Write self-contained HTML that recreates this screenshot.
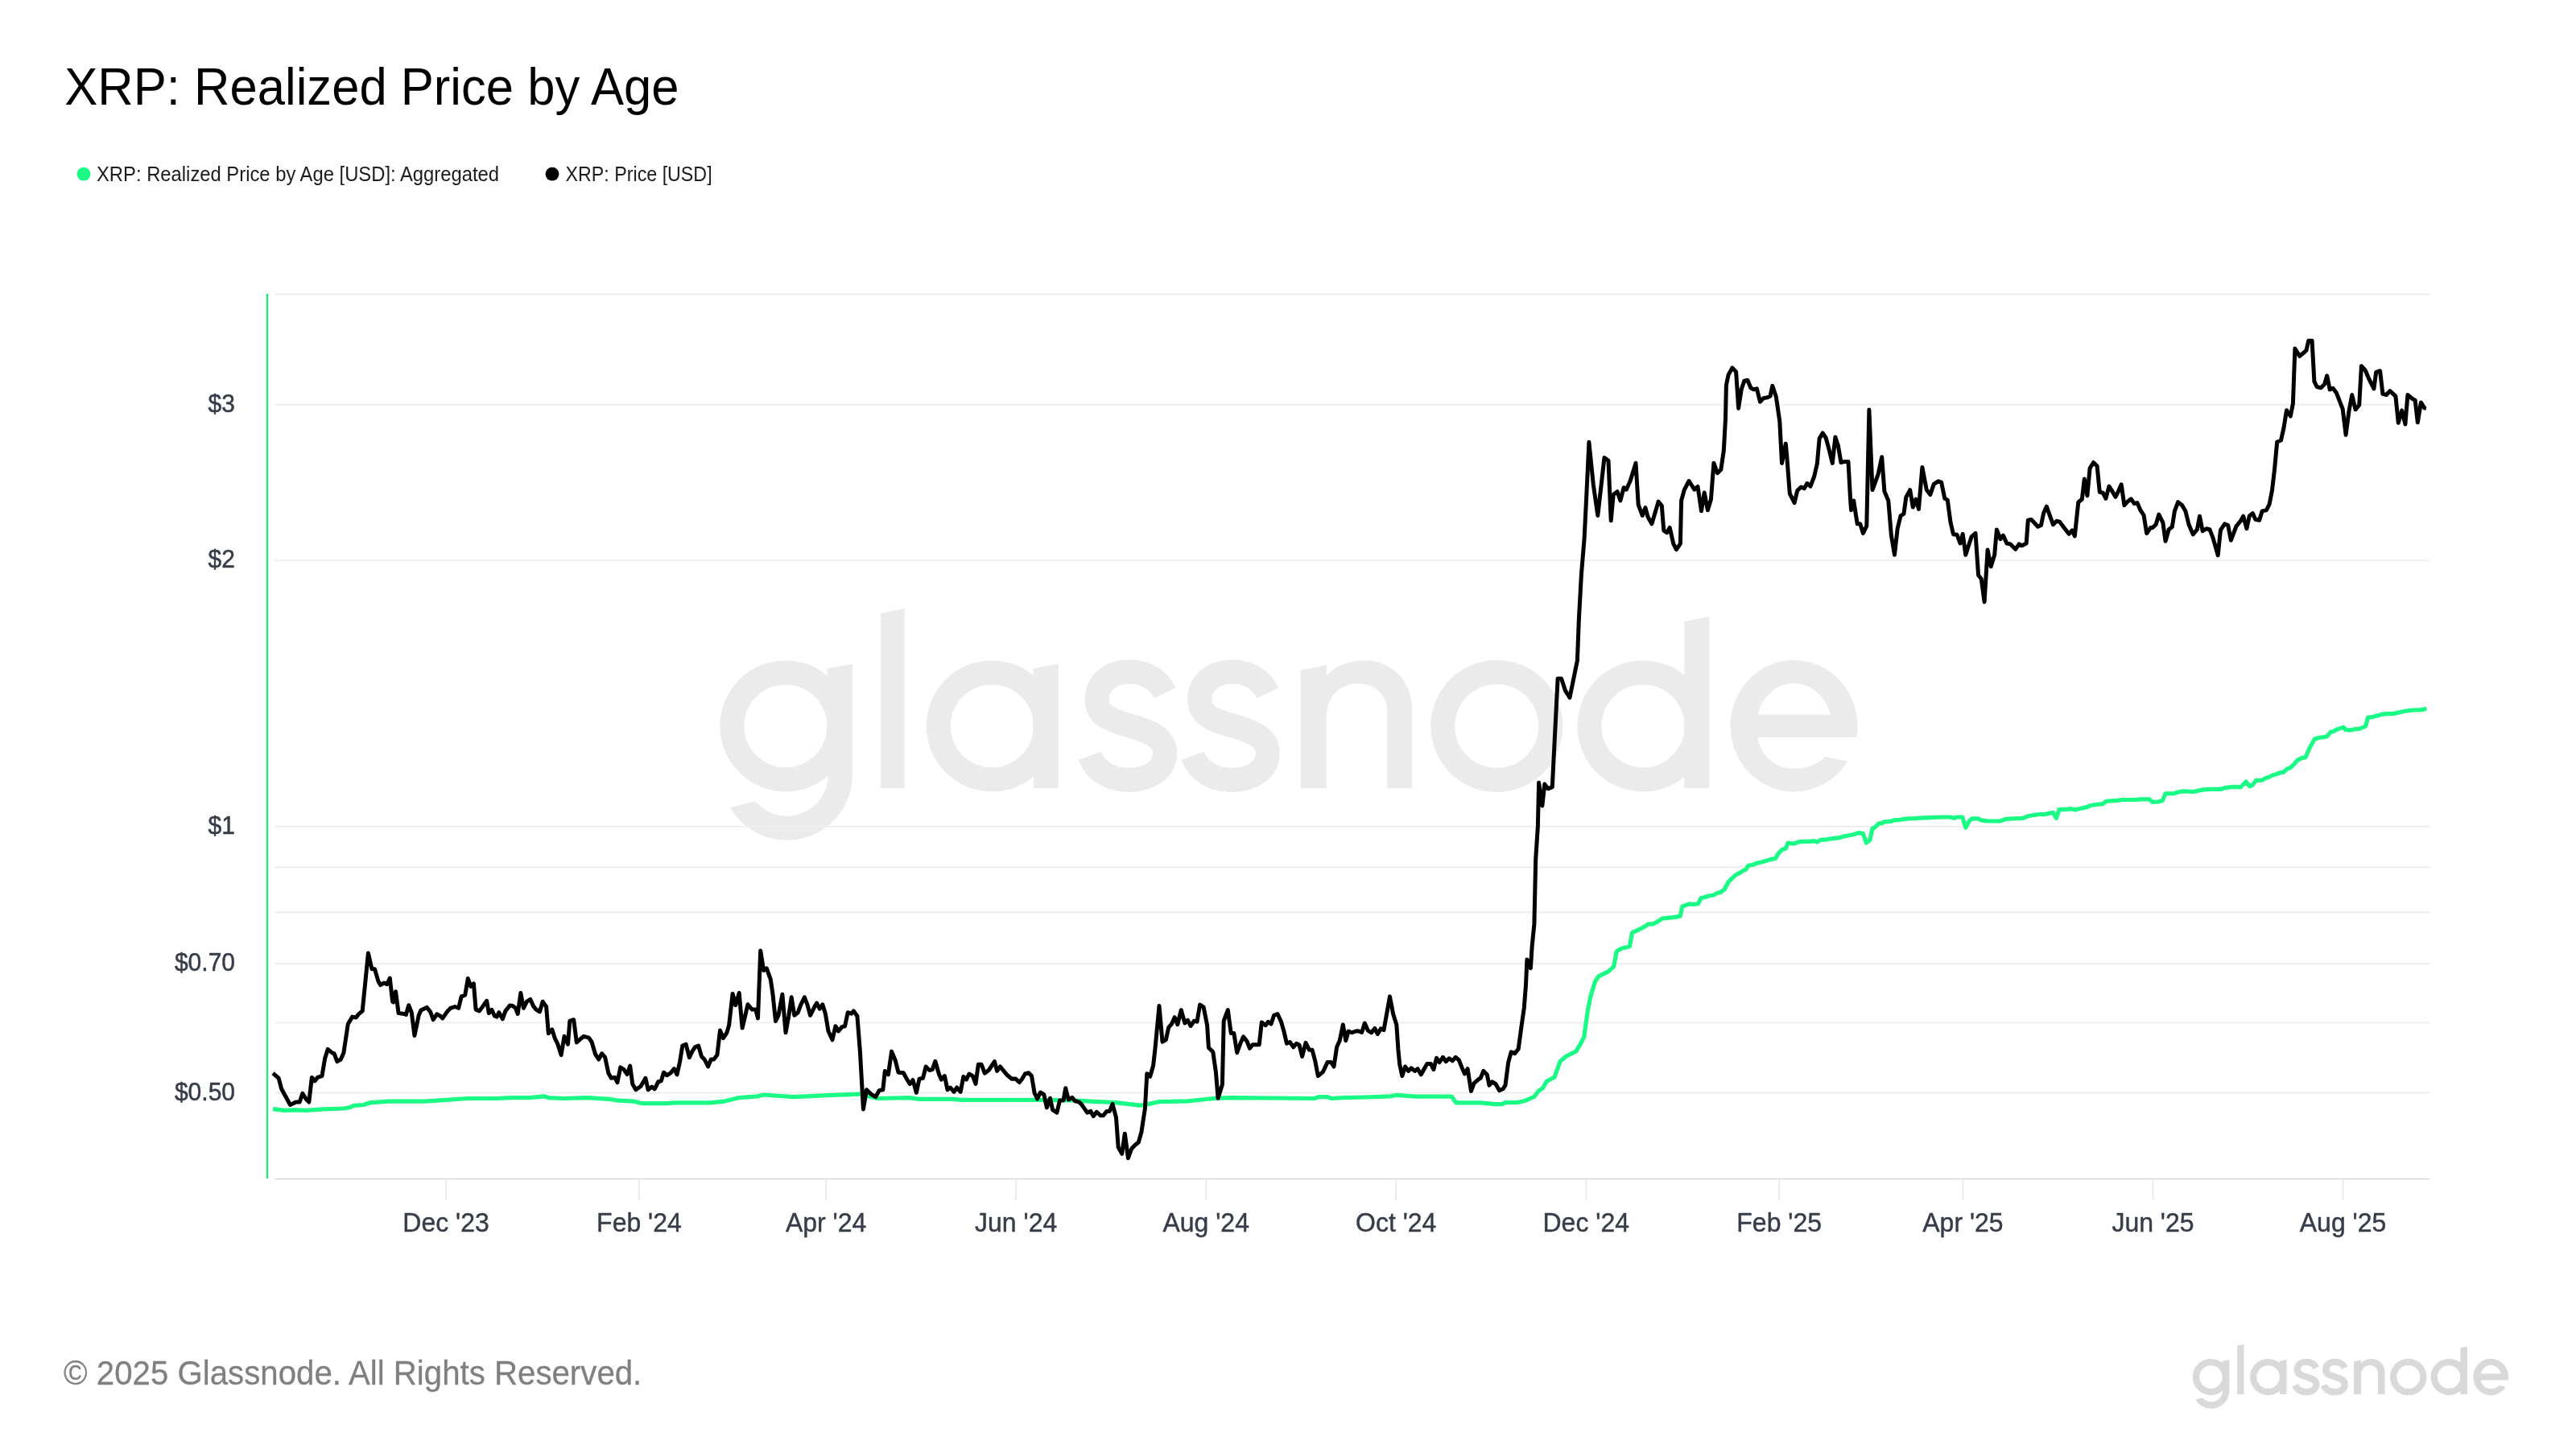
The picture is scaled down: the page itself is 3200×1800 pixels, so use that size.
<!DOCTYPE html>
<html><head><meta charset="utf-8"><title>XRP: Realized Price by Age</title>
<style>html,body{margin:0;padding:0;background:#fff;width:3200px;height:1800px;overflow:hidden}text{font-family:"Liberation Sans",sans-serif}.t{opacity:0.999}</style>
</head><body>
<svg width="3200" height="1800" viewBox="0 0 3200 1800" style="display:block;will-change:transform">
<defs><g id="logo"><circle cx="975.9" cy="901.9" r="66.5" fill="none" stroke="currentColor" stroke-width="30"/>
<path d="M1027.5 830.5 L1058.9 825 L1058.9 964.5 L1027.5 964.5 Z" fill="currentColor"/>
<path d="M1058.9 962.2 A81.5 81.5 0 0 1 906.8 1003.0 L938.2 995.6 A51.5 51.5 0 0 0 1028.9 962.2 Z" fill="currentColor"/>
<path d="M1093.8 762.1 L1123.6 755.9 L1123.6 979.2 L1093.8 979.2 Z" fill="currentColor"/>
<circle cx="1232.3" cy="901.9" r="66.5" fill="none" stroke="currentColor" stroke-width="30"/>
<path d="M1283.7 830.5 L1314.6 824.6 L1314.6 979.2 L1283.7 979.2 Z" fill="currentColor"/>
<path d="M1447.1 860.9 C1438.5 843.2 1422.5 834.6 1402.3 834.6 C1378.5 834.6 1362.6 849.2 1362.6 869.0 C1362.6 891.2 1385.5 896.2 1402.3 901.2 C1420.5 906.7 1447.1 913.2 1447.1 935.0 C1447.1 957.2 1426.5 968.9 1402.3 968.9 C1378.5 968.9 1360.5 957.2 1353.8 938.8" fill="none" stroke="currentColor" stroke-width="30"/>
<path d="M1574.8 860.9 C1566.2 843.2 1550.2 834.6 1530.0 834.6 C1506.2 834.6 1490.3 849.2 1490.3 869.0 C1490.3 891.2 1513.2 896.2 1530.0 901.2 C1548.2 906.7 1574.8 913.2 1574.8 935.0 C1574.8 957.2 1554.2 968.9 1530.0 968.9 C1506.2 968.9 1488.2 957.2 1481.5 938.8" fill="none" stroke="currentColor" stroke-width="30"/>
<path d="M1615.7 832.8 L1647.8 826.1 L1647.8 839.5 C1659 827 1676 820.5 1695 820.5 C1729 820.5 1754.2 846 1754.2 881 L1754.2 979.2 L1723.3 979.2 L1723.3 884 C1723.3 863 1708 849.3 1686.5 849.3 C1663 849.3 1647.8 867 1647.8 891 L1647.8 979.2 L1615.7 979.2 Z" fill="currentColor"/>
<circle cx="1859.3" cy="901.9" r="67" fill="none" stroke="currentColor" stroke-width="30"/>
<circle cx="2041" cy="901.9" r="66.5" fill="none" stroke="currentColor" stroke-width="30"/>
<path d="M2092.3 772 L2123.2 766.1 L2123.2 979.2 L2092.3 979.2 Z" fill="currentColor"/>
<path fill-rule="evenodd" d="M2306.3 916 A79 81.8 0 1 0 2295.2 945.6 L2267 940 C2257 950.5 2243.5 954.8 2228.5 954.8 C2205 954.8 2187.5 939 2183.2 916 Z M2183.2 887.7 A47 53 0 0 1 2273.8 887.7 Z" fill="currentColor"/></g></defs>
<rect width="3200" height="1800" fill="#ffffff"/>
<text class="t" transform="translate(80.2,130.2) scale(0.946,1)" x="0" y="0" font-family="Liberation Sans" font-size="65.1" fill="#000">XRP: Realized Price by Age</text>
<circle cx="104" cy="216.2" r="8.4" fill="#19fb84"/>
<text class="t" x="120" y="224.9" font-family="Liberation Sans" font-size="26.2" fill="#1c1c1c" textLength="500" lengthAdjust="spacingAndGlyphs">XRP: Realized Price by Age [USD]: Aggregated</text>
<circle cx="686" cy="216.2" r="8.4" fill="#000"/>
<text class="t" x="702.6" y="224.9" font-family="Liberation Sans" font-size="26.2" fill="#1c1c1c" textLength="182" lengthAdjust="spacingAndGlyphs">XRP: Price [USD]</text>
<use href="#logo" color="#ebebeb"/>
<line x1="341" y1="365.50" x2="3018.5" y2="365.50" stroke="#efefef" stroke-width="2"/>
<line x1="341" y1="502.75" x2="3018.5" y2="502.75" stroke="#efefef" stroke-width="2"/>
<line x1="341" y1="696.18" x2="3018.5" y2="696.18" stroke="#efefef" stroke-width="2"/>
<line x1="341" y1="1026.86" x2="3018.5" y2="1026.86" stroke="#efefef" stroke-width="2"/>
<line x1="341" y1="1077.13" x2="3018.5" y2="1077.13" stroke="#efefef" stroke-width="2"/>
<line x1="341" y1="1133.32" x2="3018.5" y2="1133.32" stroke="#efefef" stroke-width="2"/>
<line x1="341" y1="1197.02" x2="3018.5" y2="1197.02" stroke="#efefef" stroke-width="2"/>
<line x1="341" y1="1270.56" x2="3018.5" y2="1270.56" stroke="#efefef" stroke-width="2"/>
<line x1="341" y1="1357.54" x2="3018.5" y2="1357.54" stroke="#efefef" stroke-width="2"/>
<line x1="341" y1="1464.4" x2="3018.5" y2="1464.4" stroke="#d9d9d9" stroke-width="1.5"/>
<line x1="554.05" y1="1465" x2="554.05" y2="1491" stroke="#ebebeb" stroke-width="2"/>
<text class="t" transform="translate(554.05,1530) scale(0.961,1)" x="0" y="0" text-anchor="middle" font-family="Liberation Sans" font-size="33.3" fill="#363c48" stroke="#363c48" stroke-width="0.45">Dec '23</text>
<line x1="793.95" y1="1465" x2="793.95" y2="1491" stroke="#ebebeb" stroke-width="2"/>
<text class="t" transform="translate(793.95,1530) scale(0.961,1)" x="0" y="0" text-anchor="middle" font-family="Liberation Sans" font-size="33.3" fill="#363c48" stroke="#363c48" stroke-width="0.45">Feb '24</text>
<line x1="1026.12" y1="1465" x2="1026.12" y2="1491" stroke="#ebebeb" stroke-width="2"/>
<text class="t" transform="translate(1026.12,1530) scale(0.961,1)" x="0" y="0" text-anchor="middle" font-family="Liberation Sans" font-size="33.3" fill="#363c48" stroke="#363c48" stroke-width="0.45">Apr '24</text>
<line x1="1262.15" y1="1465" x2="1262.15" y2="1491" stroke="#ebebeb" stroke-width="2"/>
<text class="t" transform="translate(1262.15,1530) scale(0.961,1)" x="0" y="0" text-anchor="middle" font-family="Liberation Sans" font-size="33.3" fill="#363c48" stroke="#363c48" stroke-width="0.45">Jun '24</text>
<line x1="1498.18" y1="1465" x2="1498.18" y2="1491" stroke="#ebebeb" stroke-width="2"/>
<text class="t" transform="translate(1498.18,1530) scale(0.961,1)" x="0" y="0" text-anchor="middle" font-family="Liberation Sans" font-size="33.3" fill="#363c48" stroke="#363c48" stroke-width="0.45">Aug '24</text>
<line x1="1734.22" y1="1465" x2="1734.22" y2="1491" stroke="#ebebeb" stroke-width="2"/>
<text class="t" transform="translate(1734.22,1530) scale(0.961,1)" x="0" y="0" text-anchor="middle" font-family="Liberation Sans" font-size="33.3" fill="#363c48" stroke="#363c48" stroke-width="0.45">Oct '24</text>
<line x1="1970.25" y1="1465" x2="1970.25" y2="1491" stroke="#ebebeb" stroke-width="2"/>
<text class="t" transform="translate(1970.25,1530) scale(0.961,1)" x="0" y="0" text-anchor="middle" font-family="Liberation Sans" font-size="33.3" fill="#363c48" stroke="#363c48" stroke-width="0.45">Dec '24</text>
<line x1="2210.15" y1="1465" x2="2210.15" y2="1491" stroke="#ebebeb" stroke-width="2"/>
<text class="t" transform="translate(2210.15,1530) scale(0.961,1)" x="0" y="0" text-anchor="middle" font-family="Liberation Sans" font-size="33.3" fill="#363c48" stroke="#363c48" stroke-width="0.45">Feb '25</text>
<line x1="2438.45" y1="1465" x2="2438.45" y2="1491" stroke="#ebebeb" stroke-width="2"/>
<text class="t" transform="translate(2438.45,1530) scale(0.961,1)" x="0" y="0" text-anchor="middle" font-family="Liberation Sans" font-size="33.3" fill="#363c48" stroke="#363c48" stroke-width="0.45">Apr '25</text>
<line x1="2674.48" y1="1465" x2="2674.48" y2="1491" stroke="#ebebeb" stroke-width="2"/>
<text class="t" transform="translate(2674.48,1530) scale(0.961,1)" x="0" y="0" text-anchor="middle" font-family="Liberation Sans" font-size="33.3" fill="#363c48" stroke="#363c48" stroke-width="0.45">Jun '25</text>
<line x1="2910.51" y1="1465" x2="2910.51" y2="1491" stroke="#ebebeb" stroke-width="2"/>
<text class="t" transform="translate(2910.51,1530) scale(0.961,1)" x="0" y="0" text-anchor="middle" font-family="Liberation Sans" font-size="33.3" fill="#363c48" stroke="#363c48" stroke-width="0.45">Aug '25</text>
<line x1="332" y1="365" x2="332" y2="1464" stroke="#0cf96c" stroke-width="2.2"/>
<text class="t" transform="translate(292,511.85) scale(0.935,1)" x="0" y="0" text-anchor="end" font-family="Liberation Sans" font-size="32.1" fill="#363c48" stroke="#363c48" stroke-width="0.55">$3</text>
<text class="t" transform="translate(292,705.28) scale(0.935,1)" x="0" y="0" text-anchor="end" font-family="Liberation Sans" font-size="32.1" fill="#363c48" stroke="#363c48" stroke-width="0.55">$2</text>
<text class="t" transform="translate(292,1035.96) scale(0.935,1)" x="0" y="0" text-anchor="end" font-family="Liberation Sans" font-size="32.1" fill="#363c48" stroke="#363c48" stroke-width="0.55">$1</text>
<text class="t" transform="translate(292,1206.12) scale(0.935,1)" x="0" y="0" text-anchor="end" font-family="Liberation Sans" font-size="32.1" fill="#363c48" stroke="#363c48" stroke-width="0.55">$0.70</text>
<text class="t" transform="translate(292,1366.64) scale(0.935,1)" x="0" y="0" text-anchor="end" font-family="Liberation Sans" font-size="32.1" fill="#363c48" stroke="#363c48" stroke-width="0.55">$0.50</text>
<polyline points="339.0,1377.6 353.3,1379.4 365.9,1378.8 380.3,1379.4 401.8,1377.9 426.9,1377.0 434.1,1375.8 439.5,1373.4 452.0,1372.5 459.2,1369.8 482.5,1368.1 527.4,1368.1 554.3,1366.3 581.3,1364.5 617.2,1364.5 635.1,1363.6 657.9,1363.6 675.9,1361.8 681.3,1363.6 701.0,1364.5 729.7,1363.6 756.7,1365.4 769.2,1367.2 787.2,1368.1 797.9,1370.7 828.4,1370.7 837.4,1369.8 882.3,1369.8 900.2,1368.1 918.2,1363.6 941.5,1361.8 948.7,1360.0 985.9,1362.7 1021.8,1360.9 1068.4,1359.1 1075.6,1360.9 1090.0,1364.5 1129.5,1363.6 1142.0,1365.4 1183.3,1365.4 1194.1,1366.3 1295.9,1366.5 1331.8,1366.9 1349.7,1367.8 1385.6,1369.6 1416.1,1373.2 1425.1,1371.9 1439.5,1368.7 1475.4,1367.8 1493.3,1366.0 1511.3,1364.2 1529.2,1363.7 1632.8,1364.5 1638.2,1362.7 1649.0,1362.7 1654.4,1364.5 1668.7,1363.6 1695.6,1363.0 1727.9,1361.8 1735.1,1360.3 1758.4,1362.1 1803.3,1362.1 1808.7,1369.8 1839.2,1369.8 1857.2,1371.6 1866.1,1371.6 1870.0,1369.6 1884.4,1369.6 1893.3,1367.8 1905.9,1362.4 1911.3,1355.2 1916.7,1351.6 1921.1,1343.6 1925.6,1340.9 1931.0,1338.2 1938.2,1318.4 1945.4,1312.2 1957.9,1305.9 1963.3,1296.9 1967.8,1287.9 1972.3,1255.6 1975.9,1237.7 1981.3,1219.7 1985.8,1212.9 1997.4,1207.2 2004.6,1200.9 2008.2,1182.0 2013.6,1178.5 2024.3,1175.8 2027.6,1158.7 2035.1,1155.1 2042.3,1151.5 2047.7,1147.9 2053.1,1147.9 2058.4,1145.3 2065.6,1140.8 2076.4,1139.9 2087.2,1138.1 2089.9,1126.0 2098.6,1122.9 2104.8,1123.5 2109.8,1122.3 2112.9,1115.5 2117.3,1114.8 2122.2,1113.0 2128.4,1112.0 2133.4,1109.3 2137.1,1108.6 2142.1,1104.9 2147.1,1095.6 2152.0,1090.6 2157.0,1086.3 2162.0,1083.8 2165.7,1081.3 2168.8,1080.1 2171.9,1075.1 2176.9,1074.5 2183.1,1072.0 2189.3,1070.7 2194.3,1069.3 2199.3,1067.6 2205.5,1066.4 2209.2,1060.2 2214.2,1055.2 2218.5,1054.0 2221.0,1047.1 2225.3,1047.8 2229.1,1047.8 2234.0,1045.9 2241.5,1045.3 2247.7,1045.3 2253.9,1044.7 2257.0,1046.1 2261.4,1043.4 2268.8,1042.8 2276.3,1041.6 2283.7,1040.9 2291.2,1038.8 2301.1,1037.0 2308.6,1034.7 2314.2,1035.3 2318.5,1047.1 2322.9,1043.4 2326.0,1029.1 2329.7,1027.3 2334.0,1022.9 2337.1,1022.9 2340.9,1020.8 2348.3,1020.4 2353.3,1018.8 2360.7,1018.3 2368.2,1017.1 2378.1,1016.7 2381.9,1016.3 2390.6,1015.8 2414.8,1015.0 2422.3,1015.0 2427.3,1016.3 2431.0,1015.0 2437.8,1015.0 2441.9,1028.1 2446.5,1019.4 2449.6,1016.9 2457.1,1016.9 2460.8,1018.8 2469.5,1020.0 2484.4,1020.0 2491.9,1017.5 2501.8,1016.9 2513.0,1016.3 2519.2,1013.8 2531.6,1011.7 2539.1,1011.7 2550.2,1009.4 2554.6,1016.3 2557.7,1005.7 2565.2,1005.7 2572.6,1004.7 2577.6,1006.0 2585.0,1004.2 2592.5,1002.6 2596.2,1000.7 2603.7,999.5 2612.4,998.6 2616.1,995.5 2622.3,994.8 2631.0,994.3 2636.0,993.5 2650.9,993.5 2659.6,992.8 2670.1,992.8 2673.9,996.4 2680.7,996.0 2686.3,994.5 2690.0,985.8 2700.6,985.8 2705.5,984.0 2712.4,982.9 2724.8,983.5 2736.0,981.1 2744.7,980.4 2758.4,980.4 2764.6,978.6 2774.5,977.3 2783.2,978.0 2790.1,971.1 2794.4,976.7 2798.1,975.5 2802.5,969.3 2809.3,969.5 2814.3,966.8 2818.0,965.5 2823.0,963.0 2828.0,961.8 2831.7,959.9 2836.6,959.3 2841.6,955.0 2845.3,953.7 2849.1,950.0 2854.7,943.8 2859.0,941.9 2864.0,940.7 2868.9,929.5 2875.2,918.3 2880.1,916.5 2890.1,915.2 2895.0,909.6 2898.8,908.4 2903.7,905.9 2911.2,903.4 2913.7,906.5 2918.6,907.1 2926.1,905.7 2931.1,905.3 2938.5,902.2 2941.6,891.0 2946.0,891.0 2959.6,887.3 2965.8,886.6 2973.3,886.6 2985.7,883.8 2998.1,882.0 3006.8,882.0 3014.3,880.4" fill="none" stroke="#19fb84" stroke-width="5.2" stroke-linejoin="round" stroke-linecap="butt"/>
<polyline points="339.0,1333.1 346.2,1339.3 349.7,1352.8 360.5,1372.5 367.7,1369.0 372.2,1369.0 375.8,1358.2 380.3,1365.4 383.8,1369.0 387.4,1338.4 391.0,1342.9 394.6,1338.4 400.0,1336.6 403.6,1315.1 407.2,1303.4 412.6,1307.9 415.2,1308.8 418.8,1318.7 423.3,1316.0 426.9,1307.9 432.3,1272.0 437.7,1263.1 442.2,1264.0 444.9,1260.4 450.2,1255.9 457.4,1184.1 461.9,1203.8 465.5,1203.8 470.0,1219.1 472.7,1223.6 477.2,1220.9 480.8,1222.7 484.3,1215.0 487.6,1244.2 488.8,1245.1 491.5,1231.7 495.1,1258.6 502.3,1259.5 504.4,1260.4 507.7,1248.7 511.3,1257.7 514.9,1286.4 520.2,1261.3 522.9,1255.0 530.1,1251.4 534.6,1256.8 538.2,1266.7 542.7,1259.8 547.2,1262.2 549.8,1264.9 556.1,1255.9 559.7,1252.3 565.1,1250.5 569.6,1252.3 573.2,1237.9 577.7,1236.1 581.3,1215.5 584.8,1225.4 588.4,1221.8 591.1,1254.1 595.6,1255.9 600.1,1249.6 604.6,1243.3 607.3,1258.6 610.9,1254.5 614.5,1262.2 617.2,1263.1 619.8,1257.7 624.3,1265.8 627.9,1255.9 633.3,1249.1 636.9,1249.6 640.5,1252.3 643.2,1259.5 646.8,1233.5 650.4,1252.3 654.4,1244.2 658.8,1241.5 662.4,1249.6 666.0,1254.1 670.5,1256.8 674.1,1244.2 678.6,1250.5 681.3,1283.7 685.8,1278.9 689.4,1290.0 692.9,1297.2 697.1,1310.6 701.0,1287.3 705.5,1297.2 707.8,1268.4 712.7,1266.7 716.3,1295.0 720.8,1290.9 725.2,1287.3 731.5,1289.1 735.1,1294.5 739.6,1309.7 743.7,1316.0 747.7,1308.8 751.6,1313.3 755.8,1333.1 759.3,1339.3 763.8,1338.4 766.9,1344.7 770.7,1325.9 775.0,1328.6 779.1,1334.5 782.7,1324.1 785.7,1346.5 789.9,1353.7 796.1,1349.2 801.9,1339.3 805.1,1353.7 809.6,1350.1 813.2,1352.8 817.7,1343.8 821.3,1342.9 824.5,1332.2 828.4,1335.8 832.9,1333.1 837.4,1327.7 841.0,1334.9 844.6,1318.7 847.8,1299.0 852.1,1297.2 856.3,1313.7 859.8,1306.1 863.4,1300.8 867.6,1299.0 871.5,1312.4 875.1,1316.0 879.6,1325.0 883.2,1316.0 886.8,1316.0 890.9,1310.6 894.5,1280.1 898.4,1289.6 902.9,1282.8 905.6,1273.8 910.1,1234.4 913.7,1248.7 918.2,1233.5 922.1,1277.1 925.4,1263.1 928.9,1247.8 934.3,1254.1 938.8,1254.1 941.5,1264.9 944.7,1180.9 948.7,1205.6 952.3,1202.9 957.2,1216.4 959.9,1234.4 963.5,1268.4 967.0,1261.3 971.9,1235.2 976.0,1282.8 979.6,1263.1 983.2,1238.8 986.8,1261.3 991.3,1257.7 994.9,1247.8 999.4,1238.8 1002.9,1247.8 1006.5,1261.3 1011.0,1252.3 1014.6,1246.0 1018.2,1253.2 1021.8,1247.8 1025.4,1259.5 1029.0,1281.0 1034.0,1291.8 1037.9,1274.7 1041.5,1281.0 1046.0,1275.6 1049.6,1274.7 1053.2,1257.7 1057.7,1259.1 1060.4,1255.9 1064.9,1262.2 1068.4,1306.1 1072.4,1377.9 1076.5,1353.7 1081.9,1359.1 1087.8,1362.7 1092.1,1354.6 1096.8,1353.7 1099.3,1330.4 1103.4,1334.9 1107.6,1306.1 1112.4,1317.8 1116.0,1332.2 1122.3,1332.7 1126.8,1341.1 1130.4,1346.5 1134.0,1341.7 1138.4,1357.3 1142.0,1340.2 1146.5,1339.3 1150.1,1325.0 1154.6,1329.5 1158.2,1328.6 1161.8,1318.3 1166.3,1334.0 1169.3,1341.1 1173.4,1336.6 1177.0,1353.7 1180.6,1351.0 1185.1,1356.4 1188.7,1351.0 1193.2,1356.4 1196.8,1337.5 1200.4,1341.1 1203.9,1334.0 1208.4,1336.6 1212.0,1346.5 1215.3,1322.3 1219.2,1322.3 1223.2,1333.1 1228.2,1329.5 1231.8,1324.1 1235.4,1318.7 1238.6,1330.4 1242.5,1325.0 1246.1,1329.5 1251.5,1335.8 1256.9,1340.2 1261.4,1339.9 1266.3,1344.5 1269.9,1340.0 1273.5,1333.7 1277.9,1332.8 1281.5,1336.4 1285.1,1357.9 1288.7,1365.1 1292.3,1357.0 1296.8,1359.7 1300.4,1375.9 1304.5,1364.2 1307.6,1378.6 1312.9,1382.2 1316.5,1366.9 1321.0,1366.9 1323.7,1351.7 1327.3,1366.0 1331.8,1363.3 1335.4,1367.8 1339.9,1368.7 1343.5,1371.9 1350.6,1382.2 1354.8,1380.4 1358.3,1386.6 1362.3,1381.3 1367.3,1385.8 1370.4,1385.8 1374.9,1380.4 1378.4,1380.4 1382.0,1371.4 1386.5,1388.4 1389.2,1425.2 1393.7,1433.3 1397.3,1408.2 1401.4,1438.7 1405.7,1427.0 1409.9,1422.5 1414.3,1419.0 1417.9,1406.4 1422.4,1376.8 1424.8,1333.7 1428.7,1337.3 1432.6,1323.8 1435.0,1302.3 1440.0,1249.4 1444.0,1294.2 1448.4,1291.5 1451.7,1276.3 1455.6,1271.8 1459.2,1263.7 1462.8,1272.7 1467.3,1254.7 1471.8,1270.9 1475.4,1267.3 1479.0,1274.5 1483.4,1268.2 1487.0,1269.1 1490.6,1248.1 1495.1,1251.1 1499.6,1273.6 1501.4,1301.4 1506.8,1306.8 1510.4,1331.9 1513.1,1364.2 1518.4,1347.2 1520.2,1268.2 1525.3,1254.7 1529.2,1283.5 1532.8,1283.5 1536.7,1307.7 1540.9,1296.0 1544.5,1287.9 1548.9,1293.3 1552.5,1302.3 1556.1,1297.8 1564.2,1297.8 1567.3,1270.0 1572.3,1273.6 1575.4,1269.3 1579.0,1272.0 1582.6,1261.3 1587.0,1259.5 1591.5,1269.3 1595.1,1281.9 1598.4,1296.3 1602.3,1294.5 1606.8,1300.8 1610.4,1296.3 1614.0,1298.1 1617.6,1312.4 1622.0,1295.4 1626.5,1304.3 1630.1,1304.3 1633.7,1317.8 1637.3,1336.6 1643.6,1331.3 1649.0,1319.6 1653.5,1319.6 1657.0,1325.0 1660.6,1300.8 1664.2,1292.7 1668.3,1272.9 1671.8,1292.7 1675.0,1281.0 1679.5,1282.8 1684.0,1281.0 1687.6,1280.7 1691.7,1282.4 1695.3,1271.1 1699.2,1280.1 1703.7,1282.8 1707.8,1277.4 1711.4,1284.6 1715.4,1277.8 1719.0,1279.6 1726.5,1237.9 1730.6,1259.5 1734.8,1272.9 1736.9,1303.4 1738.7,1322.3 1741.9,1336.6 1745.5,1325.0 1749.5,1330.4 1753.1,1326.8 1757.5,1330.4 1761.1,1327.7 1765.3,1334.9 1769.2,1327.7 1772.8,1321.4 1777.3,1321.4 1780.9,1328.6 1784.5,1314.2 1788.1,1319.6 1792.5,1313.3 1796.1,1318.7 1800.1,1314.8 1804.2,1317.8 1808.3,1313.3 1812.3,1316.9 1815.9,1325.9 1819.5,1334.0 1823.1,1327.7 1827.5,1355.5 1831.1,1345.6 1837.4,1340.2 1839.2,1339.3 1842.8,1330.4 1847.3,1334.9 1850.0,1348.3 1853.6,1343.8 1858.0,1346.5 1862.5,1354.6 1867.0,1352.8 1870.0,1348.1 1873.6,1320.2 1877.2,1306.8 1881.7,1308.6 1886.2,1303.2 1889.7,1277.2 1893.3,1252.0 1895.5,1223.3 1896.9,1191.9 1901.4,1202.7 1903.2,1174.9 1905.9,1147.9 1907.7,1067.4 1910.4,1026.1 1911.6,972.3 1915.8,1001.0 1918.8,974.1 1922.9,979.8 1928.3,977.7 1931.0,923.8 1935.1,843.0 1939.6,843.0 1944.5,857.9 1950.0,866.6 1959.4,820.6 1961.4,768.4 1964.4,713.8 1968.1,669.1 1970.6,619.4 1973.9,549.3 1979.3,602.0 1984.8,640.5 1993.0,568.4 1998.0,572.2 2001.2,646.7 2004.2,614.4 2009.1,610.7 2012.9,621.9 2017.1,605.7 2020.3,608.2 2025.3,597.0 2032.0,575.2 2035.2,626.8 2040.2,640.5 2043.9,630.6 2046.9,641.7 2051.9,650.9 2060.1,623.1 2064.3,628.1 2066.8,659.1 2070.7,661.6 2074.2,655.4 2078.7,675.3 2082.4,682.7 2087.4,675.3 2088.6,621.9 2092.4,608.2 2098.1,597.5 2104.8,608.2 2109.0,604.5 2113.5,634.8 2117.2,611.9 2121.4,633.8 2125.4,620.6 2128.9,575.2 2133.4,587.6 2137.8,583.4 2141.3,559.8 2143.5,519.7 2144.4,478.5 2147.0,465.9 2151.9,456.9 2156.6,461.9 2159.6,507.2 2163.2,483.8 2166.8,473.1 2170.9,472.2 2174.9,482.0 2178.5,483.8 2182.4,482.9 2186.5,499.1 2190.7,494.6 2195.5,493.7 2199.1,491.9 2201.8,479.4 2206.3,492.8 2210.8,523.3 2213.5,575.4 2218.3,551.1 2219.7,566.4 2223.3,613.1 2229.1,624.7 2232.7,609.5 2237.3,605.0 2241.3,606.8 2244.9,600.5 2249.0,604.1 2253.8,591.5 2257.4,575.4 2260.1,544.9 2264.2,538.0 2268.2,544.0 2272.1,558.3 2276.3,575.4 2279.9,543.1 2283.4,553.8 2287.0,574.5 2290.6,573.6 2296.0,573.6 2298.7,622.0 2299.6,633.7 2302.7,622.0 2307.2,650.8 2310.8,650.8 2314.4,662.4 2318.8,653.4 2321.9,509.0 2326.0,608.6 2333.2,588.8 2337.7,567.8 2340.9,610.4 2345.8,622.0 2349.4,665.1 2353.5,689.3 2357.1,657.0 2361.0,640.9 2365.0,638.2 2367.8,617.6 2372.7,608.6 2376.3,630.1 2379.9,620.2 2383.5,632.4 2387.9,580.4 2393.3,608.6 2397.8,614.5 2402.3,601.4 2407.7,597.8 2411.6,599.1 2415.8,619.3 2419.3,621.1 2422.9,648.1 2426.5,663.7 2431.0,664.2 2435.0,675.0 2438.2,663.3 2441.8,689.3 2449.0,666.9 2454.0,662.4 2457.6,714.5 2461.2,719.0 2465.1,747.7 2469.1,683.1 2473.2,703.7 2477.7,689.3 2480.4,657.9 2484.9,669.6 2488.4,665.1 2492.9,675.0 2497.4,675.9 2503.7,682.2 2508.2,675.9 2511.8,677.7 2517.2,675.0 2519.3,646.3 2523.4,645.4 2531.5,654.3 2535.5,652.5 2538.7,637.3 2542.3,629.2 2550.4,651.7 2554.8,647.2 2558.4,648.1 2563.8,655.2 2570.1,663.3 2574.2,658.8 2577.3,666.0 2581.8,623.8 2586.3,620.2 2589.3,595.1 2592.9,615.8 2596.1,581.7 2600.6,574.5 2605.1,579.0 2608.3,611.3 2612.3,612.2 2615.9,619.3 2620.0,604.1 2623.2,609.1 2627.9,617.3 2632.1,609.1 2635.2,601.8 2638.9,627.7 2642.4,623.6 2647.2,619.8 2651.3,625.6 2654.9,624.6 2659.0,633.9 2663.1,640.1 2666.7,662.5 2671.4,655.6 2674.1,655.6 2678.2,651.5 2681.8,639.1 2686.9,649.4 2690.0,672.2 2694.2,657.7 2698.3,654.6 2701.4,634.9 2705.6,623.6 2710.7,627.7 2714.9,634.9 2719.0,651.5 2724.2,663.9 2729.4,657.7 2732.5,641.2 2736.2,659.8 2740.8,656.7 2744.9,657.7 2749.0,668.1 2755.2,689.8 2758.4,658.7 2763.5,650.9 2767.7,652.5 2771.4,671.2 2778.0,653.6 2783.2,647.4 2786.7,641.2 2790.9,656.7 2794.2,641.2 2798.3,637.6 2801.8,645.3 2806.6,646.3 2810.1,634.9 2815.3,633.9 2819.0,626.7 2822.5,609.1 2825.6,582.2 2828.7,549.0 2833.5,547.0 2837.0,531.4 2840.5,509.7 2845.3,517.0 2848.4,501.4 2850.9,433.1 2856.7,442.4 2862.9,437.3 2865.0,435.2 2867.7,423.2 2872.1,423.2 2874.9,474.0 2878.2,480.6 2883.2,481.7 2887.6,477.3 2890.7,466.8 2894.2,483.9 2898.1,482.3 2902.5,488.3 2910.2,508.2 2914.1,540.2 2918.0,510.4 2921.8,490.5 2926.0,508.8 2930.7,503.2 2933.4,454.7 2938.4,460.2 2942.3,469.6 2948.9,482.8 2951.7,462.4 2956.6,460.7 2959.9,489.4 2964.4,490.5 2968.8,485.6 2975.9,492.2 2979.3,525.3 2983.7,509.9 2987.9,527.0 2990.9,490.5 2996.9,495.5 3000.2,497.2 3003.3,524.8 3007.4,499.9 3010.4,504.9 3011.5,506.9 3013.9,507.3" fill="none" stroke="#000" stroke-width="5.0" stroke-linejoin="round" stroke-linecap="butt"/>
<text class="t" x="79" y="1720" font-family="Liberation Sans" font-size="43.3" fill="#808080" stroke="#808080" stroke-width="0.3" textLength="718.3" lengthAdjust="spacingAndGlyphs">© 2025 Glassnode. All Rights Reserved.</text>
<use href="#logo" color="#d9d9d9" transform="translate(2475.45,1460.11) scale(0.27767)"/>
</svg>
</body></html>
